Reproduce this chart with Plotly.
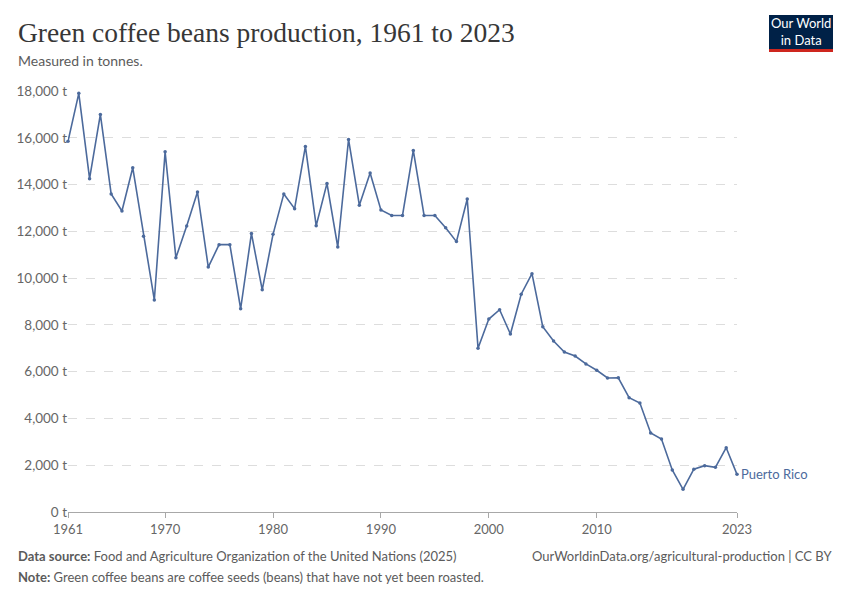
import plotly.graph_objects as go

# Green coffee beans production, Puerto Rico (tonnes)
years = list(range(1961, 2024))
production = [
    15850, 17900, 14250, 17000, 13600, 12870, 14720, 11790, 9065, 15400,
    10870, 12230, 13680, 10470, 11430, 11430, 8690, 11910, 9500, 11870,
    13600, 12970, 15630, 12240, 14050, 11330, 15930, 13120, 14490, 12910,
    12680, 12680, 15460, 12680, 12680, 12150, 11560, 13380, 7000, 8250,
    8650, 7610, 9310, 10190, 7920, 7310, 6840, 6670, 6330, 6060,
    5730, 5740, 4890, 4660, 3380, 3120, 1800, 970, 1830, 1980,
    1910, 2750, 1610,
]
x_ticks = [1961, 1970, 1980, 1990, 2000, 2010, 2023]
y_ticks = [0, 2000, 4000, 6000, 8000, 10000, 12000, 14000, 16000, 18000]
y_labels = [f"{v:,} t" for v in y_ticks]
country = "Puerto Rico"

line_color = "#4c6a9c"
grey = "#5b5b5b"

fig = go.Figure()
fig.add_trace(go.Scatter(
    x=years, y=production, mode="lines+markers", name=country,
    line=dict(color=line_color, width=1.6),
    marker=dict(color=line_color, size=3.5),
    cliponaxis=False, hoverinfo="x+y",
))

# series label at the end of the line
fig.add_annotation(x=years[-1], y=production[-1], text=country, showarrow=False,
                   xanchor="left", xshift=2, font=dict(family="Lato", size=13, color=line_color))

fig.update_layout(
    width=850, height=600,
    margin=dict(l=68, r=113, t=91, b=88),
    paper_bgcolor="white", plot_bgcolor="white",
    showlegend=False,
    font=dict(family="Lato", color=grey),
)
fig.update_xaxes(
    range=[1961, 2023], tickvals=x_ticks, showgrid=False,
    showline=True, linecolor="#a8a8a8", linewidth=1,
    ticks="outside", ticklen=5, tickcolor="#a8a8a8",
    tickfont=dict(family="Lato", size=13, color="#666666"),
    zeroline=False,
)
fig.update_yaxes(
    range=[0, 18000], tickvals=y_ticks, ticktext=y_labels,
    showgrid=True, gridcolor="#dddddd", griddash="dash", gridwidth=1,
    zeroline=False, showline=False, ticks="",
    tickfont=dict(family="Lato", size=13.5, color="#666666"),
)

# title and subtitle
fig.add_annotation(xref="paper", yref="paper", x=-52/669, y=1 + (91-33)/421, xanchor="left", yanchor="middle",
                   text="Green coffee beans production, 1961 to 2023", showarrow=False,
                   font=dict(family="Liberation Serif", size=27.5, color="#373737"))
fig.add_annotation(xref="paper", yref="paper", x=-52/669, y=1 + (91-61)/421, xanchor="left", yanchor="middle",
                   text="Measured in tonnes.", showarrow=False,
                   font=dict(family="Lato", size=14, color=grey))

# logo
fig.add_shape(type="rect", xref="paper", yref="paper",
              x0=(769-68)/669, x1=(833-68)/669, y0=(512-49)/421, y1=(512-15)/421,
              fillcolor="#002147", line_width=0, layer="above")
fig.add_shape(type="rect", xref="paper", yref="paper",
              x0=(769-68)/669, x1=(833-68)/669, y0=(512-52)/421, y1=(512-49)/421,
              fillcolor="#ce261e", line_width=0, layer="above")
fig.add_annotation(xref="paper", yref="paper", x=(801-68)/669, y=(512-32)/421, xanchor="center", yanchor="middle",
                   text="Our World<br>in Data", showarrow=False,
                   font=dict(family="Lato", size=13, color="white"))

# footer
fig.add_annotation(xref="paper", yref="paper", x=-52/669, y=-(556-512)/421, xanchor="left", yanchor="middle",
                   text="<b>Data source:</b> Food and Agriculture Organization of the United Nations (2025)",
                   showarrow=False, font=dict(family="Lato", size=13, color=grey))
fig.add_annotation(xref="paper", yref="paper", x=(834-68)/669, y=-(556-512)/421, xanchor="right", yanchor="middle",
                   text="OurWorldinData.org/agricultural-production | CC BY",
                   showarrow=False, font=dict(family="Lato", size=13, color=grey))
fig.add_annotation(xref="paper", yref="paper", x=-52/669, y=-(577-512)/421, xanchor="left", yanchor="middle",
                   text="<b>Note:</b> Green coffee beans are coffee seeds (beans) that have not yet been roasted.",
                   showarrow=False, font=dict(family="Lato", size=13, color=grey))

# drop the default page margin so the figure sits at the window's top-left corner
fig.write_html("out.html", config={"displayModeBar": False},
               post_script="document.body.style.margin='0';")
